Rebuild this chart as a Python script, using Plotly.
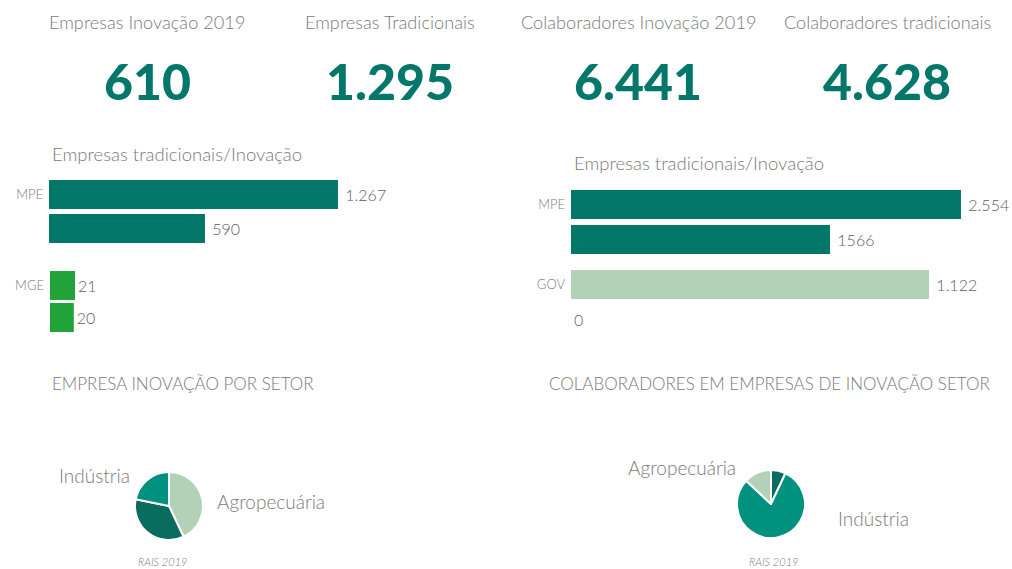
import plotly.graph_objects as go

# ---- data ----------------------------------------------------------------
kpi_titles = ["Empresas Inovação 2019", "Empresas Tradicionais",
              "Colaboradores Inovação 2019", "Colaboradores tradicionais"]
kpi_values = [610, 1295, 6441, 4628]

bar_title = "Empresas tradicionais/Inovação"

# left panel: companies (traditional, innovation) by size
mpe_emp_values = [1267, 590]
mpe_emp_labels = ["1.267", "590"]
mge_emp_values = [21, 20]
mge_emp_labels = ["21", "20"]

# right panel: (traditional, innovation) by group
mpe_col_values = [2554, 1566]
mpe_col_labels = ["2.554", "1566"]
gov_col_values = [1122, 0]
gov_col_labels = ["1.122", "0"]

sectors_left = ["Agropecuária", "Serviços", "Indústria"]
sector_emp_values = [262, 215, 133]
sectors_right = ["Serviços", "Indústria", "Agropecuária"]
sector_col_values = [450, 5150, 841]

pie_title_left = "EMPRESA INOVAÇÃO POR SETOR"
pie_title_right = "COLABORADORES EM EMPRESAS DE INOVAÇÃO SETOR"
source_note = "RAIS 2019"

# ---- style ---------------------------------------------------------------
W, H = 1012, 569
TEAL = "#03776a"
GREEN = "#22a33a"
LIGHT = "#b3d1b7"
MID = "#00917f"
DARK = "#0a6b5f"
GREY = "#7a7a7a"
LABEL_GREY = "#5e5e5e"
FONT = "Lato"
HEAVY = "Lato Black, Lato"


def fx(p):
    return p / W


def fy(p):
    return 1 - p / H


def fmt_br(v):
    return f"{v:,}".replace(",", ".")


fig = go.Figure()


def add_bars(values, labels, color, width, xa, ya, pad="\u00a0"):
    fig.add_trace(go.Bar(
        x=values, y=list(range(len(values))), orientation="h",
        marker=dict(color=color, line=dict(width=0)),
        width=width,
        text=[pad + t if v > 0 else t for t, v in zip(labels, values)],
        textposition="outside",
        textfont=dict(family=FONT, size=16, color=LABEL_GREY, weight=300),
        cliponaxis=False, xaxis=xa, yaxis=ya, showlegend=False,
        hoverinfo="x",
    ))


add_bars(mpe_emp_values, mpe_emp_labels, TEAL, 29 / 34, "x", "y")
add_bars(mge_emp_values, mge_emp_labels, GREEN, 29 / 32, "x2", "y2", pad="")
add_bars(mpe_col_values, mpe_col_labels, TEAL, 29 / 35, "x3", "y3")
add_bars(gov_col_values, gov_col_labels, LIGHT, 29 / 35, "x4", "y4")

fig.add_trace(go.Pie(
    labels=sectors_left, values=sector_emp_values,
    marker=dict(colors=[LIGHT, DARK, MID], line=dict(color="white", width=2)),
    sort=False, direction="clockwise", rotation=0, textinfo="none",
    domain=dict(x=[fx(135), fx(203)], y=[fy(540), fy(472)]),
    showlegend=False,
))
fig.add_trace(go.Pie(
    labels=sectors_right, values=sector_col_values,
    marker=dict(colors=[DARK, MID, LIGHT], line=dict(color="white", width=2)),
    sort=False, direction="clockwise", rotation=0, textinfo="none",
    domain=dict(x=[fx(737), fx(805)], y=[fy(538), fy(470)]),
    showlegend=False,
))

hidden_x = dict(visible=False, showgrid=False, zeroline=False, fixedrange=True)


def cat_axis(top, bottom, name, anchor):
    return dict(domain=[fy(bottom), fy(top)], range=[1.5, -0.5],
                tickvals=[0], ticktext=[name], showgrid=False, zeroline=False,
                showline=False, ticks="", anchor=anchor, ticklabelstandoff=5,
                tickfont=dict(family=FONT, size=13, color=GREY, weight=300))


fig.update_layout(
    width=W, height=H, margin=dict(l=0, r=0, t=0, b=0),
    paper_bgcolor="white", plot_bgcolor="white",
    font=dict(family=FONT, color=GREY),
    xaxis=dict(hidden_x, type="log", range=[2.3816, 3.3799],
               domain=[fx(49), fx(449)], anchor="y"),
    yaxis=cat_axis(177.5, 245.5, "MPE", "x"),
    xaxis2=dict(hidden_x, range=[0, 84], domain=[fx(50), fx(150)], anchor="y2"),
    yaxis2=cat_axis(269.5, 333.5, "MGE", "x2"),
    xaxis3=dict(hidden_x, type="log", range=[2.7748, 3.4559],
                domain=[fx(571), fx(991)], anchor="y3"),
    yaxis3=cat_axis(187, 257, "MPE", "x3"),
    xaxis4=dict(hidden_x, range=[0, 1316.3], domain=[fx(571), fx(991)], anchor="y4"),
    yaxis4=cat_axis(267, 337, "GOV", "x4"),
)

ann = []


def text(x, y, s, size, color=GREY, xanchor="center", weight=300,
         family=FONT, **kw):
    ann.append(dict(x=fx(x), y=fy(y), xref="paper", yref="paper", text=s,
                    showarrow=False, xanchor=xanchor, yanchor="middle",
                    font=dict(family=family, size=size, color=color,
                              weight=weight, **kw)))


# KPI headline row
for cx, title, val in zip([147, 390, 638, 887], kpi_titles, kpi_values):
    text(cx, 22, title, 18.2)
    text(cx, 81, fmt_br(val), 50, color=TEAL, weight=900, family=HEAVY)

text(50, 154, bar_title, 18.5, xanchor="left")
text(572, 163, bar_title, 18.5, xanchor="left")

text(50, 383, pie_title_left, 17, xanchor="left")
text(547, 383, pie_title_right, 17, xanchor="left")

text(94, 475, sectors_left[2], 19)
text(271, 501, sectors_left[0], 19)
text(682, 468, sectors_right[2], 19)
text(873, 518, sectors_right[1], 19)

text(162, 561, source_note, 11, style="italic")
text(773, 561, source_note, 11, style="italic")

fig.update_layout(annotations=ann)
fig.write_html("out.html")
